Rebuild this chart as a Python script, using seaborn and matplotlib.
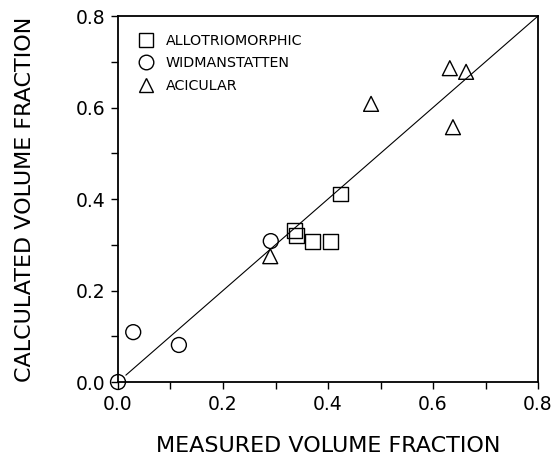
import numpy as np
import pandas as pd
import seaborn as sns
import matplotlib.pyplot as plt
from matplotlib.lines import Line2D
from matplotlib.ticker import MultipleLocator, FormatStrFormatter

# measured vs calculated volume fraction
allo_measured = [0.337, 0.340, 0.370, 0.404, 0.423]
allo_calc = [0.331, 0.321, 0.308, 0.308, 0.411]
widm_measured = [0.0, 0.029, 0.116, 0.291]
widm_calc = [0.0, 0.109, 0.081, 0.308]
acic_measured = [0.290, 0.482, 0.632, 0.638, 0.663]
acic_calc = [0.275, 0.608, 0.686, 0.557, 0.678]

phases = ['ALLOTRIOMORPHIC', 'WIDMANSTATTEN', 'ACICULAR']
phase_markers = {'ALLOTRIOMORPHIC': 's', 'WIDMANSTATTEN': 'o', 'ACICULAR': '^'}

df = pd.DataFrame({
    'measured': allo_measured + widm_measured + acic_measured,
    'calculated': allo_calc + widm_calc + acic_calc,
    'phase': [phases[0]] * len(allo_measured) + [phases[1]] * len(widm_measured)
             + [phases[2]] * len(acic_measured),
})

sns.set_style('ticks')
plt.rcParams['text.color'] = 'black'
plt.rcParams['axes.labelcolor'] = 'black'
plt.rcParams['xtick.color'] = 'black'
plt.rcParams['ytick.color'] = 'black'

fig = plt.figure(figsize=(5.55, 4.55), dpi=100)
ax = fig.add_axes([0.2126, 0.1604, 0.7568, 0.8044])

# 1:1 line
ax.plot([0.015, 0.8], [0.015, 0.8], color='black', lw=0.8)

sns.scatterplot(data=df, x='measured', y='calculated', style='phase',
                markers=phase_markers, s=115, facecolor='none',
                edgecolor='black', linewidth=1.0, legend=False,
                clip_on=False, zorder=3, ax=ax)

ax.set_xlim(0, 0.8)
ax.set_ylim(0, 0.8)
for axis in (ax.xaxis, ax.yaxis):
    axis.set_major_locator(MultipleLocator(0.2))
    axis.set_minor_locator(MultipleLocator(0.1))
    axis.set_major_formatter(FormatStrFormatter('%.1f'))
ax.tick_params(which='both', direction='out', length=5, width=1, color='black')
ax.tick_params(axis='both', labelsize=13.5, pad=4)
for sp in ax.spines.values():
    sp.set_visible(True)
    sp.set_color('black')
    sp.set_linewidth(1.3)

ax.set_xlabel('MEASURED VOLUME FRACTION', fontsize=16, labelpad=16)
ax.set_ylabel('CALCULATED VOLUME FRACTION', fontsize=16, labelpad=29)

handles = [Line2D([], [], ls='none', marker=phase_markers[p], ms=10.5,
                  mfc='none', mec='black', mew=1.0, label=p) for p in phases]
ax.legend(handles=handles, loc='upper left', bbox_to_anchor=(0.025, 0.975),
          frameon=False, fontsize=10.3, labelspacing=0.6, handletextpad=0.8,
          handlelength=1.2, borderaxespad=0.2)

fig.savefig('out.png', dpi=100)
